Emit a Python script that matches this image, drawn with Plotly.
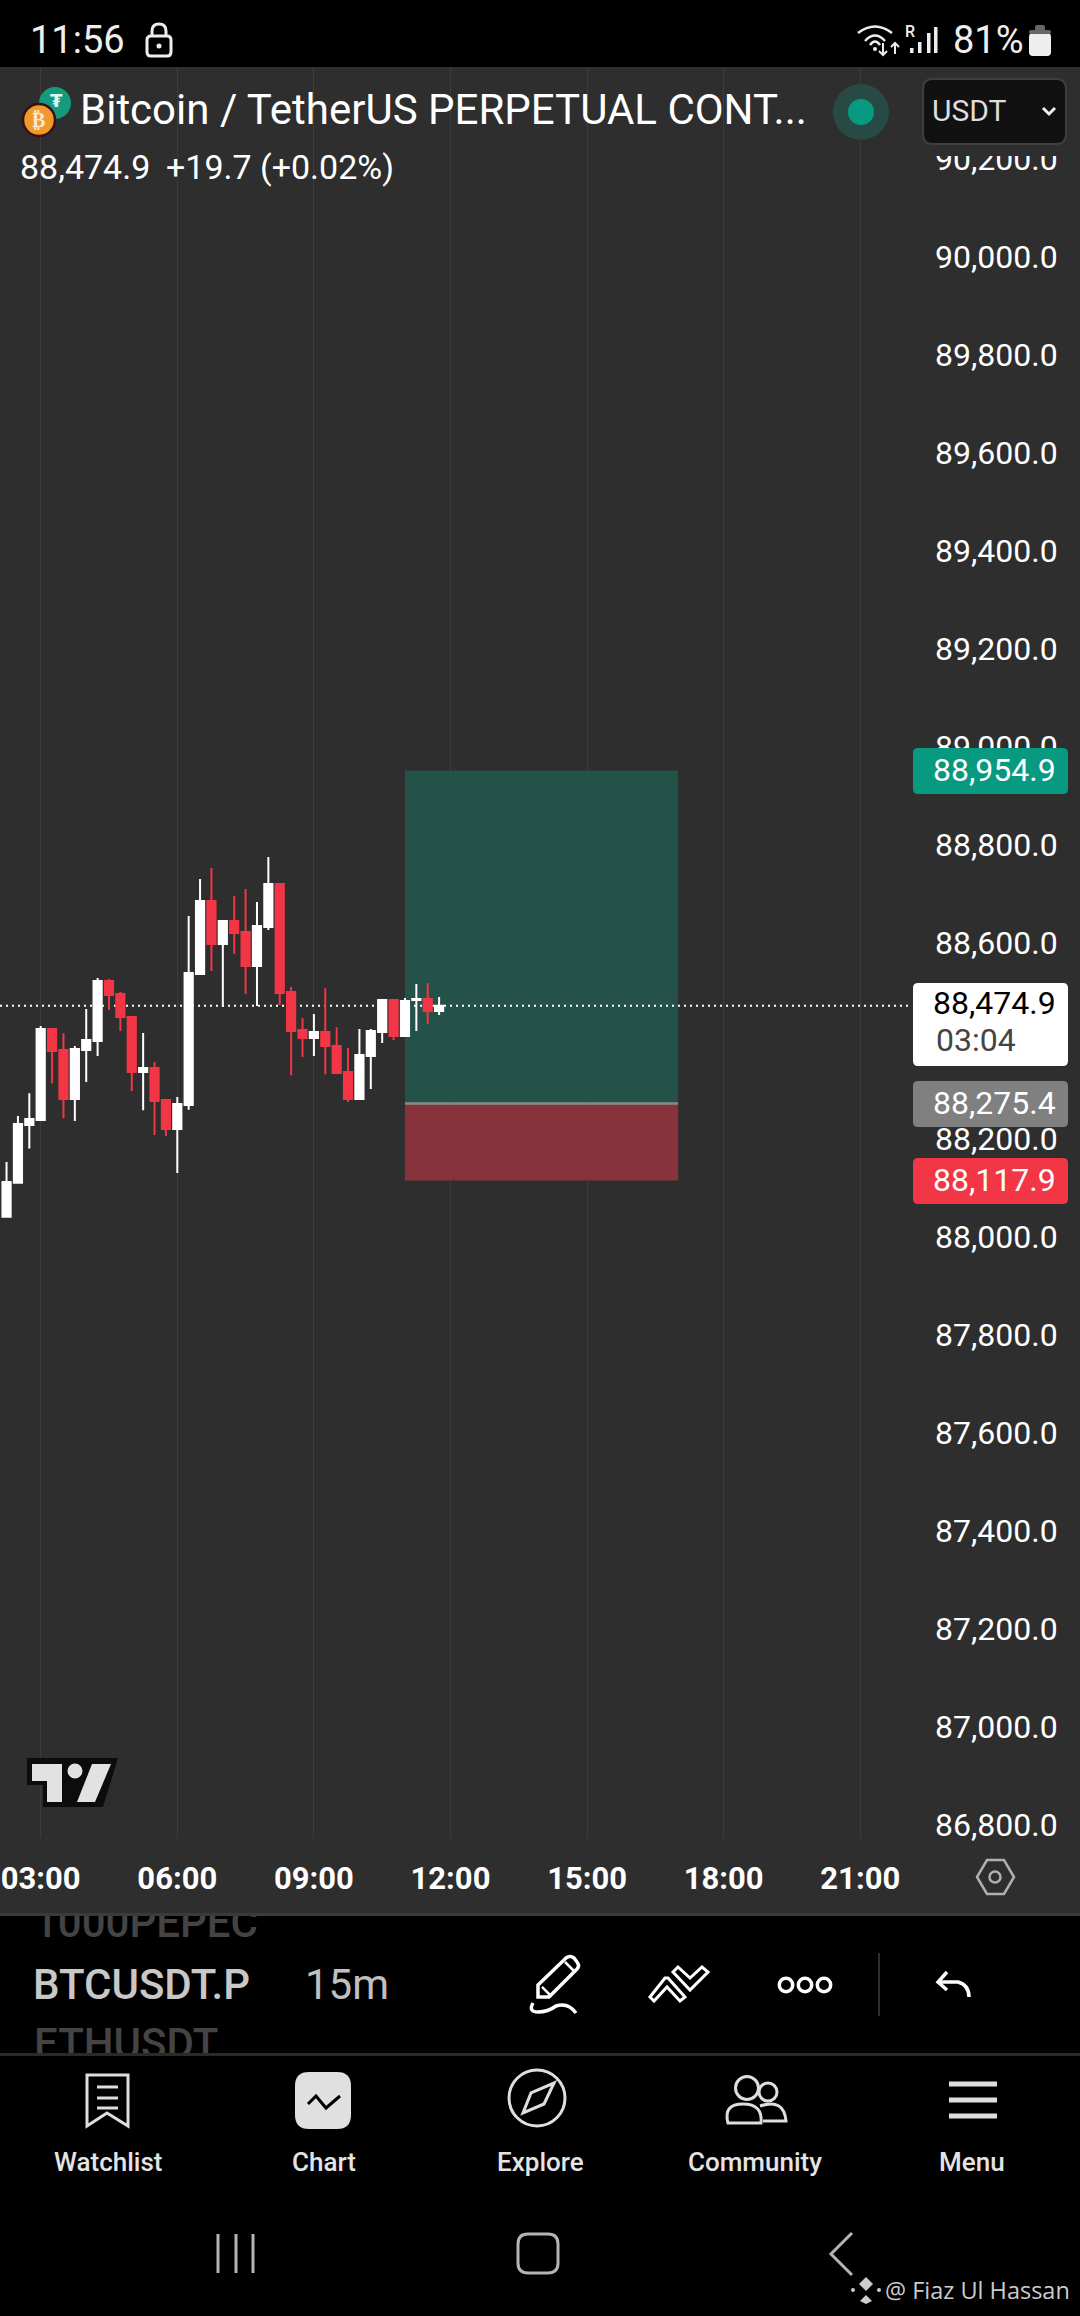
import plotly.graph_objects as go

W = 1080
H = 2316
DAY = '2025-01-20 '

# Candle data (15 minute bars)
times = ['02:15', '02:30', '02:45', '03:00', '03:15', '03:30', '03:45', '04:00', '04:15', '04:30',
         '04:45', '05:00', '05:15', '05:30', '05:45', '06:00', '06:15', '06:30', '06:45', '07:00',
         '07:15', '07:30', '07:45', '08:00', '08:15', '08:30', '08:45', '09:00', '09:15', '09:30',
         '09:45', '10:00', '10:15', '10:30', '10:45', '11:00', '11:15', '11:30', '11:45']
opens = [88044.3, 88113.7, 88231.4, 88241.6, 88427.3, 88384.4, 88284.4, 88384.4, 88402.8, 88525.2,
         88498.7, 88451.8, 88339.5, 88347.7, 88282.4, 88223.2, 88272.2, 88539.5, 88688.5, 88600.8,
         88647.7, 88625.2, 88555.9, 88635.5, 88723.2, 88502.8, 88425.2, 88408.9, 88421.2, 88392.6,
         88339.5, 88284.4, 88372.2, 88421.2, 88486.5, 88413.0, 88486.5, 88488.5, 88464.0]
highs = [88155.8, 88249.7, 88296.0, 88433.4, 88427.3, 88418.4, 88392.6, 88468.1, 88531.4, 88529.3,
         88502.8, 88451.8, 88419.1, 88359.9, 88282.4, 88288.5, 88657.9, 88733.4, 88755.9, 88647.7,
         88698.7, 88713.0, 88686.5, 88778.3, 88723.2, 88513.0, 88449.7, 88457.9, 88510.3, 88430.7,
         88388.5, 88427.3, 88427.3, 88486.5, 88486.5, 88490.5, 88519.1, 88521.2, 88492.6]
lows = [88042.9, 88113.7, 88183.7, 88241.6, 88316.4, 88245.0, 88239.5, 88319.1, 88372.2, 88466.1,
        88423.2, 88300.7, 88261.3, 88210.9, 88208.9, 88133.4, 88262.6, 88539.5, 88545.7, 88472.2,
        88580.3, 88498.7, 88474.2, 88629.3, 88476.3, 88332.7, 88370.1, 88372.2, 88334.8, 88337.5,
        88278.3, 88284.4, 88304.8, 88398.7, 88404.8, 88413.0, 88423.2, 88437.5, 88455.9]
closes = [88115.0, 88233.4, 88243.6, 88427.3, 88382.4, 88284.4, 88386.5, 88404.8, 88525.2, 88496.7,
          88451.8, 88339.5, 88347.7, 88280.3, 88223.2, 88274.2, 88541.6, 88688.5, 88600.8, 88647.7,
          88623.2, 88555.9, 88637.5, 88723.2, 88500.8, 88423.2, 88408.9, 88421.2, 88392.6, 88337.5,
          88284.4, 88374.2, 88423.2, 88486.5, 88413.0, 88484.4, 88488.5, 88464.0, 88474.9]

# 88,400 sits fully behind the last price tag in the picture
price_ticks = [86800, 87000, 87200, 87400, 87600, 87800, 88000, 88200, 88600,
               88800, 89000, 89200, 89400, 89600, 89800, 90000, 90200]
time_ticks = ['03:00', '06:00', '09:00', '12:00', '15:00', '18:00', '21:00']

# Long position tool and last price
last_price = 88474.9
target_price = 88954.9
entry_price = 88275.4
stop_price = 88117.9
position_start = '11:00'
position_end = '17:00'

BG = '#2e2e2e'
GRID = '#3c3c3c'
RED = '#f23645'
TEAL = '#089981'
UI = '#dedede'


def fx(x):
    return x / W


def fy(y):
    return 1 - y / H


def path(d):
    # d is a list of svg commands written in screen pixels
    out = []
    for item in d:
        if isinstance(item, str):
            out.append(item)
        else:
            out.append(f'{fx(item[0]):.5f},{fy(item[1]):.5f}')
    return ' '.join(out)


def rrect(x0, y0, x1, y1, r):
    return path(['M', (x0 + r, y0), 'L', (x1 - r, y0), 'Q', (x1, y0), (x1, y0 + r),
                 'L', (x1, y1 - r), 'Q', (x1, y1), (x1 - r, y1),
                 'L', (x0 + r, y1), 'Q', (x0, y1), (x0, y1 - r),
                 'L', (x0, y0 + r), 'Q', (x0, y0), (x0 + r, y0), 'Z'])


shapes = []
annotations = []


def add_path(d, fill=None, line=None, width=0, layer='above'):
    shape = dict(type='path', xref='paper', yref='paper', path=d if isinstance(d, str) else path(d),
                 layer=layer, line=dict(color=line or 'rgba(0,0,0,0)', width=width))
    if fill:
        shape['fillcolor'] = fill
    shapes.append(shape)


def add_circle(cx, cy, r, fill=None, line=None, width=0):
    shape = dict(type='circle', xref='paper', yref='paper', x0=fx(cx - r), x1=fx(cx + r),
                 y0=fy(cy + r), y1=fy(cy - r), layer='above',
                 line=dict(color=line or 'rgba(0,0,0,0)', width=width))
    if fill:
        shape['fillcolor'] = fill
    shapes.append(shape)


def add_text(text, x, y, size, color='#ffffff', anchor='left', weight=400, family='Roboto'):
    annotations.append(dict(text=text, xref='paper', yref='paper', x=fx(x), y=fy(y), xanchor=anchor,
                            yanchor='middle', showarrow=False,
                            font=dict(family=family, size=size, color=color, weight=weight)))


# Chart background, the page itself is black
add_path(rrect(0, 67, W, 1913, 0), fill=BG, layer='below')
add_path(rrect(0, 1913, W, 1916, 0), fill='#3a3a3a', layer='below')
add_path(rrect(0, 2053, W, 2056, 0), fill='#2a2a2a', layer='below')

# Position tool
shapes.append(dict(type='rect', xref='x', yref='y', x0=DAY + position_start, x1=DAY + position_end,
                   y0=entry_price, y1=target_price, fillcolor='#245449', line_width=0, opacity=0.97, layer='between'))
shapes.append(dict(type='rect', xref='x', yref='y', x0=DAY + position_start, x1=DAY + position_end,
                   y0=stop_price, y1=entry_price, fillcolor='#8b343c', line_width=0, opacity=0.97, layer='between'))
shapes.append(dict(type='line', xref='x', yref='y', x0=DAY + position_start, x1=DAY + position_end,
                   y0=entry_price, y1=entry_price, line=dict(color='#8a8a8a', width=2.5), layer='between'))

# Dotted last price line, on the same layer as the position tool
shapes.append(dict(type='line', xref='x', yref='y', x0=DAY + '02:06:22', x1=DAY + '22:03:00',
                   y0=last_price, y1=last_price,
                   line=dict(color='#ffffff', width=2, dash='2px,4px'), layer='between'))

# Header cuts off the top price label
add_path(rrect(911, 67, W, 156, 0), fill=BG)

# Price tags
tag_x0 = 913
tag_x1 = 1068
add_path(rrect(tag_x0, 748, tag_x1, 794, 5), fill=TEAL)
add_path(rrect(tag_x0, 983, tag_x1, 1066, 5), fill='#ffffff')
add_path(rrect(tag_x0, 1081, tag_x1, 1127, 5), fill='#808080')
add_path(rrect(tag_x0, 1158, tag_x1, 1204, 5), fill=RED)
add_text(f'{target_price:,.1f}', 1058, 770, 32, '#ffffff', 'right')
add_text(f'{last_price:,.1f}', 1058, 1003, 32, '#000000', 'right')
add_text('03:04', 934, 1040, 32, '#444444')
add_text(f'{entry_price:,.1f}', 1058, 1103, 32, '#ffffff', 'right')
add_text(f'{stop_price:,.1f}', 1058, 1180, 32, '#ffffff', 'right')

# Status bar
add_text('11:56', 28, 40, 38, '#eeeeee')
add_path(rrect(147, 36, 171, 56, 4), line='#eeeeee', width=3)
add_path(['M', (152, 36), 'L', (152, 31), 'Q', (152, 24), (159, 24), 'Q', (166, 24), (166, 31), 'L', (166, 36)],
         line='#eeeeee', width=3)
add_circle(159, 46, 2.5, fill='#eeeeee')
for x0, x1, y_end, y_ctrl in [(858, 892, 33, 20), (865, 885, 41, 30), (870, 880, 45, 38)]:
    add_path(['M', (x0, y_end), 'Q', ((x0 + x1) / 2, y_ctrl), (x1, y_end)], line='#eeeeee', width=2.5)
add_circle(875, 49, 2, fill='#eeeeee')
add_path(['M', (883, 43), 'L', (883, 55), 'M', (879, 51), 'L', (883, 55), 'L', (887, 51)], line='#eeeeee', width=2)
add_path(['M', (895, 54), 'L', (895, 43), 'M', (891, 47), 'L', (895, 43), 'L', (899, 47)], line='#eeeeee', width=2)
add_text('R', 903, 32, 16, '#eeeeee', weight=500)
for bar_x, bar_top in [(910, 48), (918, 42), (927, 33), (934, 27)]:
    add_path(rrect(bar_x, bar_top, bar_x + 3.5, 53, 0), fill='#eeeeee')
add_text('81%', 951, 40, 38, '#eeeeee')
add_path(rrect(1029, 33, 1051, 56, 4), fill='#eeeeee')
add_path(rrect(1035, 25, 1045, 34, 2), fill='#666666')
add_path(rrect(1029, 30, 1051, 34, 2), fill='#666666')

# Symbol header
add_circle(55, 103, 16, fill='#159a7e')
add_text('₮', 56, 101, 18, '#dff5ef', 'center', 700, 'DejaVu Sans')
add_circle(39, 120, 16, fill='#f19a2b', line='#3a1015', width=2.5)
add_text('₿', 39, 120, 20, '#fbe6cf', 'center', 700, 'DejaVu Sans')
add_text('Bitcoin / TetherUS PERPETUAL CONT...', 78, 110, 42)
add_text('88,474.9', 18, 167, 34)
add_text('+19.7 (+0.02%)', 164, 167, 34)
add_circle(861, 112, 28, fill='#284a44')
add_circle(861, 112, 13, fill=TEAL)
add_path(rrect(923, 79, 1066, 144, 10), fill='#111111', line='#3f3f3f', width=2)
add_text('USDT', 930, 111, 30, '#dddddd')
add_path(['M', (1043, 108), 'L', (1049, 114), 'L', (1055, 108)], line='#eeeeee', width=3)

# TradingView logo
add_path(['M', (27, 1758), 'L', (118, 1758), 'L', (103, 1807), 'L', (43, 1807), 'L', (43, 1785), 'L', (27, 1785), 'Z'],
         fill='#0c0c0c')
add_path(['M', (32, 1764), 'L', (62, 1764), 'L', (62, 1802), 'L', (47, 1802), 'L', (47, 1781), 'L', (32, 1781), 'Z'],
         fill='#e2e2e2')
add_circle(75, 1771, 7.5, fill='#e2e2e2')
add_path(['M', (92, 1764), 'L', (111, 1764), 'L', (95, 1802), 'L', (77, 1802), 'Z'], fill='#e2e2e2')

# Settings hexagon on the time axis
add_path(['M', (987, 1860), 'L', (1004, 1860), 'L', (1014, 1877), 'L', (1004, 1894), 'L', (987, 1894), 'L', (977, 1877), 'Z'],
         line='#b0b0b0', width=2.5)
add_circle(995, 1877, 5.5, line='#b0b0b0', width=2.5)

# Toolbar
add_text('BTCUSDT.P', 31, 1984, 42, '#c8c8c8', weight=500)
add_text('15m', 303, 1984, 42, '#c0c0c0')
add_path(['M', (538, 1985), 'L', (566, 1958), 'Q', (570, 1955), (574, 1958), 'L', (577, 1962), 'Q', (580, 1966), (577, 1969),
          'L', (549, 1997), 'L', (538, 1997), 'Z'], line='#ffffff', width=3.5)
add_path(['M', (542, 1987), 'L', (550, 1995), 'M', (565, 1962), 'L', (575, 1972)], line='#ffffff', width=2.5)
add_path(['M', (533, 2003), 'Q', (528, 2012), (538, 2012), 'Q', (548, 2012), (556, 2006), 'Q', (568, 2002), (576, 2013)],
         line='#ffffff', width=3.5)
add_path(['M', (650, 1997), 'L', (665, 1978), 'L', (668, 1978), 'L', (685, 1997), 'L', (680, 2001), 'L', (667, 1987),
          'L', (654, 2001), 'Z'], line='#ffffff', width=3)
add_path(['M', (673, 1972), 'L', (678, 1967), 'L', (690, 1978), 'L', (702, 1967), 'L', (708, 1972), 'L', (690, 1990), 'Z'],
         line='#ffffff', width=3)
for dot_x in [786, 805, 824]:
    add_circle(dot_x, 1985, 6.7, line='#ffffff', width=3.5)
add_path(rrect(878, 1953, 880, 2016, 0), fill='#2f2f2f')
add_path(['M', (947, 1972), 'L', (938, 1982), 'L', (947, 1990)], line='#ffffff', width=3.5)
add_path(['M', (938, 1982), 'L', (958, 1982), 'Q', (969, 1985), (969, 1997)], line='#ffffff', width=3.5)

# Bottom navigation
add_path(['M', (87, 2075), 'L', (128, 2075), 'L', (128, 2126), 'L', (107, 2113), 'L', (87, 2126), 'Z'], line=UI, width=3)
for row in [2087, 2098, 2108]:
    add_path(['M', (97, row), 'L', (118, row)], line=UI, width=3)
add_path(rrect(295, 2072, 351, 2129, 14), fill='#e0e0e0')
add_path(['M', (308, 2104), 'L', (316, 2096), 'L', (326, 2108), 'L', (340, 2096)], line='#000000', width=3)
add_circle(537, 2098, 28, line=UI, width=3)
add_path(['M', (554, 2083), 'L', (544, 2104), 'L', (523, 2113), 'L', (531, 2093), 'Z'], line=UI, width=3)
add_circle(747, 2088, 11.5, line=UI, width=3)
add_circle(768, 2092, 9, line=UI, width=3)
add_path(['M', (728, 2123), 'Q', (723, 2104), (743, 2104), 'Q', (763, 2104), (761, 2123), 'Z'], line=UI, width=3)
add_path(['M', (760, 2106), 'Q', (784, 2098), (786, 2121), 'L', (763, 2121)], line=UI, width=3)
for row in [2084, 2100, 2116]:
    add_path(rrect(949, row - 2.5, 997, row + 2.5, 0), fill=UI)
for label, label_x in [('Watchlist', 108), ('Chart', 324), ('Explore', 540), ('Community', 755), ('Menu', 972)]:
    add_text(label, label_x, 2162, 26, '#e4e4e4', 'center', 500)

# Android navigation bar
for bar_x in [218, 236, 253]:
    add_path(['M', (bar_x, 2234), 'L', (bar_x, 2273)], line='#b4b4b4', width=3)
add_path(rrect(518, 2234, 558, 2273, 10), line='#b4b4b4', width=3)
add_path(['M', (852, 2233), 'L', (831, 2254), 'L', (852, 2275)], line='#b4b4b4', width=3)

# Watermark
add_path(['M', (866, 2277), 'L', (873, 2284), 'L', (866, 2291), 'L', (859, 2284), 'Z'], fill='#cccccc')
add_path(['M', (866, 2295), 'L', (872, 2301), 'L', (866, 2304), 'L', (860, 2301), 'Z'], fill='#cccccc')
add_circle(853, 2290, 2, fill='#cccccc')
add_circle(879, 2290, 2, fill='#cccccc')
add_text('@ Fiaz Ul Hassan', 883, 2290, 23.5, '#cccccc', family='Open Sans')

fig = go.Figure()
fig.add_trace(go.Candlestick(
    x=[DAY + t for t in times],
    open=opens,
    high=highs,
    low=lows,
    close=closes,
    increasing=dict(line=dict(color='#ffffff', width=2), fillcolor='#ffffff'),
    decreasing=dict(line=dict(color=RED, width=2), fillcolor=RED),
    whiskerwidth=0,
    showlegend=False,
))

# Watchlist rows behind the toolbar, clipped by their own small subplot
fig.add_trace(go.Scatter(
    x=[34, 34],
    y=[1926, 2047],
    text=['1000PEPEC', 'ETHUSDT'],
    mode='text',
    textposition='middle right',
    textfont=dict(family='Roboto', size=42, color='#444444', weight=500),
    cliponaxis=True,
    showlegend=False,
    xaxis='x2',
    yaxis='y2',
))

fig.update_layout(
    width=W,
    height=H,
    margin=dict(l=0, r=0, t=0, b=0, autoexpand=False),
    paper_bgcolor='#000000',
    plot_bgcolor='rgba(0,0,0,0)',
    showlegend=False,
    boxgap=0.28,
    boxgroupgap=0,
    shapes=shapes,
    annotations=annotations,
    xaxis=dict(
        type='date',
        automargin=False,
        domain=[0, 910 / W],
        range=[DAY + '02:06:22', DAY + '22:05:32'],
        tickvals=[DAY + t for t in time_ticks],
        ticktext=time_ticks,
        showgrid=True,
        gridcolor=GRID,
        gridwidth=1.2,
        zeroline=False,
        showline=False,
        ticks='',
        ticklabelstandoff=19,
        tickfont=dict(family='Roboto', size=31, color='#ffffff', weight=700),
        rangeslider=dict(visible=False),
        anchor='y',
    ),
    yaxis=dict(
        side='right',
        automargin=False,
        domain=[fy(1838), fy(67)],
        range=[86776.3, 90390.6],
        tickvals=price_ticks,
        tickformat=',.1f',
        showgrid=False,
        zeroline=False,
        showline=False,
        ticks='',
        ticklabelstandoff=24,
        ticklabelshift=-2,
        tickfont=dict(family='Roboto', size=32, color='#ffffff'),
        anchor='x',
    ),
    xaxis2=dict(domain=[0, 258 / W], range=[0, 258], visible=False, automargin=False, anchor='y2'),
    yaxis2=dict(domain=[fy(2053), fy(1916)], range=[2053, 1916], visible=False, automargin=False, anchor='x2'),
)

# Drop the default page margin
fig.write_html("out.html", post_script="document.body.style.margin='0';", config=dict(displayModeBar=False))
